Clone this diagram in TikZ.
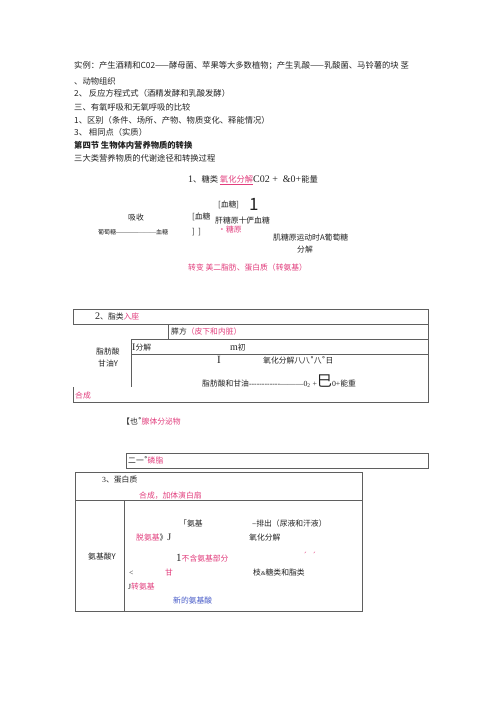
\documentclass[tikz,border=0pt]{standalone}
\usepackage{fontspec}
\setmainfont{Noto Sans CJK SC}
\newfontfamily\lat{Liberation Serif}
\newfontfamily\dvs{DejaVu Sans}
\definecolor{pk}{RGB}{226,62,125}
\definecolor{bl}{RGB}{70,90,200}
\definecolor{ln}{RGB}{95,95,95}
\definecolor{tx}{RGB}{35,35,35}
\begin{document}
\begin{tikzpicture}[x=1pt,y=-1pt,
  t/.style={anchor=west,inner sep=0pt,text=tx,font=\fontsize{8.3}{10}\selectfont},
  ts/.style={t,font=\fontsize{7.8}{9}\selectfont},
  tl/.style={draw=ln,line width=0.7pt}]
\useasboundingbox[fill=white] (0,0) rectangle (500,708);
% --- running text ---
\node[t] (l1) at (74,66) {实例：产生酒精和C02——酵母菌、苹果等大多数植物；产生乳酸——乳酸菌、马铃薯的块\ 茎};
\node[t] (l2) at (74,81) {、动物组织};
\node[t] (l3) at (74,93) {2、\ 反应方程式式（酒精发酵和乳酸发酵）};
\node[t] (l4) at (74,107) {三、有氧呼吸和无氧呼吸的比较};
\node[t] (l5) at (74,120) {1、区别（条件、场所、产物、物质变化、释能情况）};
\node[t] (l6) at (74,132) {3、\ 相同点（实质）};
\node[t,font=\fontsize{8.3}{10}\selectfont\bfseries] (l7) at (74,145) {第四节\ 生物体内营养物质的转换};
\node[t] (l8) at (74,158) {三大类营养物质的代谢途径和转换过程};
% --- section 1 ---
\node[t] (s1) at (188,180) {{\lat\fontsize{10}{10}\selectfont 1}、糖类\ \textcolor{pk}{\underline{氧化分解}}{\lat\fontsize{10}{10}\selectfont C02 +\ \ \&0+}能量};
\node[ts] (bt1) at (218,205) {[血糖]};
\node[t,font=\fontsize{17}{17}\selectfont] (one) at (249,204) {1};
\node[ts] (xs) at (128,218) {吸收};
\node[ts] (bt2) at (192,217) {[血糖};
\node[ts] (gt) at (215,221) {肝糖原十俨血糖};
\node[ts,text=pk] (ty) at (218,230) {•糖原};
\node[t,font=\fontsize{6}{6}\selectfont] (pt) at (98,232) {葡萄糖{\lat -----------———}血糖};
\node[ts] (br) at (192,232) {]\ \ ]};
\node[ts] (jt) at (273,238) {肌糖原运动时A葡萄糖};
\node[ts] (fj) at (297,250) {分解};
\node[ts,text=pk] (zb) at (188,268) {转变\ 美二脂肪、蛋白质（转氨基）};
% --- section 2 table ---
\draw[tl] (73,309) -- (428,309) -- (428,402) -- (73,402) -- (73,387);
\draw[tl] (73,309) -- (73,324);
\draw[tl] (73,324) -- (428,324);
\draw[tl] (168,324) -- (168,339);
\draw[tl] (131,339) -- (428,339);
\draw[tl] (131,354) -- (428,354);
\draw[tl] (131,339) -- (131,387);
\node[ts] (s2) at (95,317) {{\lat\fontsize{10}{10}\selectfont 2}、脂类\textcolor{pk}{入座}};
\node[ts] (zf) at (171,332) {膵方\textcolor{pk}{（皮下和内脏）}};
\node[ts] (fj2) at (132,348) {{\lat\fontsize{10}{10}\selectfont I}分解};
\node[ts] (mc) at (230,348) {{\lat\fontsize{10}{10}\selectfont m}初};
\node[ts] (zfs) at (96,352) {脂肪酸};
\node[ts] (gy) at (98,364) {甘油Y};
\node[ts] (ii) at (217,360) {{\lat\fontsize{11}{11}\selectfont I}};
\node[ts] (yh) at (263,360) {氧化分解八八{\dvs ˚}八{\dvs ˚}日};
\node[ts] (eq) at (202,381) {脂肪酸和甘油{\lat ------------———0\textsubscript{2} +}{\fontsize{15}{15}\selectfont 巳}{\lat 0+}能重};
\node[ts,text=pk] (hc) at (75,396) {合成};
% --- middle ---
\node[ts] (yw) at (122,421) {【也{\dvs ˚}\textcolor{pk}{腺体分泌物}};
\draw[tl] (126,453) rectangle (428,468);
\node[ts] (lz) at (128,460) {二一{\dvs ˚}\textcolor{pk}{磷脂}};
% --- section 3 table ---
\draw[tl] (75,472) rectangle (362,611);
\draw[tl] (75,500) -- (362,500);
\draw[tl] (124,500) -- (124,611);
\node[ts] (s3) at (102,480) {{\lat 3}、蛋白质};
\node[ts,text=pk] (hc3) at (139,496) {合成，加体演白扇};
\node[ts] (aj) at (179,524) {「氨基};
\node[ts] (pc) at (252,524) {--排出（尿液和汗液）};
\node[ts] (taj) at (136,538) {\textcolor{pk}{脱氨基}》{\lat\fontsize{10}{10}\selectfont J}};
\node[ts] (yh3) at (249,538) {氧化分解};
\node[ts] (ajs) at (88,557) {氨基酸Y};
\node[ts] (bh) at (176,558) {{\lat\fontsize{11}{11}\selectfont 1}\textcolor{pk}{不含氨基部分}};
\node[ts,text=pk] (mk) at (303,555) {{\dvs ˊ\ \ ˊ}};
\node[ts] (lt) at (129,573) {{\lat <}};
\node[ts,text=pk] (gn) at (165,573) {甘};
\node[ts] (tl3) at (253,573) {枝{\lat\fontsize{6}{6}\selectfont\&}糖类和脂类};
\node[ts] (zaj) at (128,587) {{\lat J}\textcolor{pk}{转氨基}};
\node[ts,text=bl] (xaj) at (173,601) {新的氨基酸};
\end{tikzpicture}
\end{document}
